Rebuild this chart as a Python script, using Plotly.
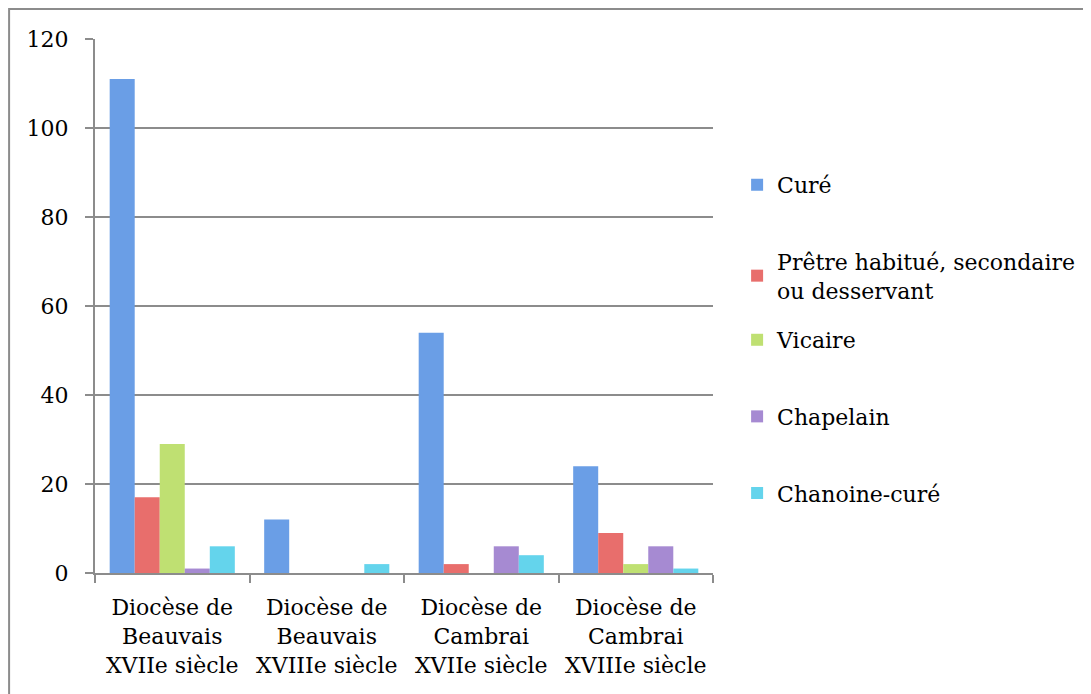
import plotly.graph_objects as go

categories = ["Diocèse de<br>Beauvais<br>XVIIe siècle", "Diocèse de<br>Beauvais<br>XVIIIe siècle",
              "Diocèse de<br>Cambrai<br>XVIIe siècle", "Diocèse de<br>Cambrai<br>XVIIIe siècle"]
series_names = ["Curé", "Prêtre habitué, secondaire<br>ou desservant", "Vicaire", "Chapelain", "Chanoine-curé"]
cure = [111, 12, 54, 24]
pretre = [17, 0, 2, 9]
vicaire = [29, 0, 0, 2]
chapelain = [1, 0, 6, 6]
chanoine = [6, 2, 4, 1]
values = [cure, pretre, vicaire, chapelain, chanoine]
colors = ["#6a9ee6", "#e86e6c", "#bfe072", "#a68ad2", "#64d4ec"]
legend_ids = ["legend", "legend", "legend2", "legend2", "legend2"]
y_ticks = [0, 20, 40, 60, 80, 100, 120]

FONT = "DejaVu Serif"
fig = go.Figure()
for i, (name, vals, col, lg) in enumerate(zip(series_names, values, colors, legend_ids)):
    fig.add_trace(go.Bar(x=categories, y=vals, name=name, marker=dict(color=col, line=dict(width=0)),
                         legendgroup=str(i), legend=lg))

legend_common = dict(xanchor="left", yanchor="top", tracegroupgap=45,
                     font=dict(family=FONT, size=22), itemwidth=30, traceorder="grouped",
                     bgcolor="rgba(0,0,0,0)")
fig.update_layout(
    width=1091, height=694,
    margin=dict(l=87, r=386, t=31, b=129),
    paper_bgcolor="white", plot_bgcolor="white",
    barmode="group", bargap=0.19, bargroupgap=0,
    font=dict(family=FONT, size=22, color="black"),
    legend=dict(x=1.039, y=0.766, **legend_common),
    legend2=dict(x=1.039, y=0.4757, **legend_common),
    showlegend=True,
)
fig.update_yaxes(range=[0, 120], tickvals=y_ticks, showgrid=True, gridcolor="#8c8c8c", gridwidth=2,
                 showline=True, linecolor="#8c8c8c", linewidth=2, ticks="outside", ticklen=8,
                 tickcolor="#8c8c8c", tickwidth=2, zeroline=False, ticklabelstandoff=12)
fig.update_xaxes(showline=True, linecolor="#8c8c8c", linewidth=2, ticks="outside", ticklen=8,
                 tickcolor="#8c8c8c", tickwidth=2, tickson="boundaries", showgrid=False,
                 ticklabelstandoff=14)
fig.add_shape(type="rect", xref="paper", yref="paper", x0=-0.139, x1=1.61, y0=-0.3, y1=1.056,
              line=dict(color="#8c8c8c", width=2), layer="below")
fig.write_html("out.html")
